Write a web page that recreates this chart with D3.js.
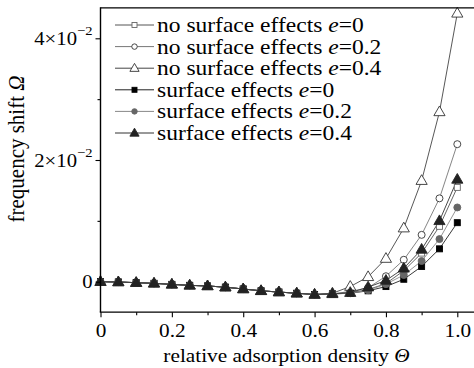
<!DOCTYPE html>
<html>
<head>
<meta charset="utf-8">
<script src="https://cdn.jsdelivr.net/npm/d3@7"></script>
<style>
  body { margin: 0; background: #fff; }
  svg { display: block; font-family: "Liberation Serif", "Times New Roman", serif; }
</style>
</head>
<body>
<div class="container"></div>
<script>
// relative adsorption density, 0 .. 1 step 0.05
let theta = [0, 0.05, 0.1, 0.15, 0.2, 0.25, 0.3, 0.35, 0.4, 0.45, 0.5, 0.55, 0.6, 0.65, 0.7, 0.75, 0.8, 0.85, 0.9, 0.95, 1.0]

// frequency shift values
let noSurfE0  = [0, -0.00005, -0.00016, -0.00027, -0.00044, -0.0006, -0.0007, -0.0009, -0.0012, -0.0015, -0.0017, -0.0019, -0.0021, -0.0020, -0.0018, -0.0013, -0.0003, 0.0018, 0.0047, 0.0091, 0.0155]
let noSurfE02 = [0, -0.00005, -0.00016, -0.00027, -0.00044, -0.0006, -0.0007, -0.0009, -0.0012, -0.0015, -0.0017, -0.0019, -0.0021, -0.0020, -0.0016, -0.0010, 0.0009, 0.0036, 0.0077, 0.0137, 0.0226]
let noSurfE04 = [0, -0.00005, -0.00016, -0.00027, -0.00044, -0.0006, -0.0007, -0.0009, -0.0012, -0.0015, -0.0017, -0.0019, -0.0021, -0.0019, -0.0008, 0.0008, 0.0038, 0.0088, 0.0166, 0.0279, 0.0441]
let surfE0    = [0, -0.00005, -0.00016, -0.00027, -0.00044, -0.0006, -0.0007, -0.0009, -0.0012, -0.0015, -0.0017, -0.0019, -0.0021, -0.0020, -0.0019, -0.0015, -0.0008, 0.0004, 0.0025, 0.0054, 0.0097]
let surfE02   = [0, -0.00005, -0.00016, -0.00027, -0.00044, -0.0006, -0.0007, -0.0009, -0.0012, -0.0015, -0.0017, -0.0019, -0.0021, -0.0020, -0.0019, -0.0014, -0.0004, 0.0011, 0.0034, 0.0070, 0.0122]
let surfE04   = [0, -0.00005, -0.00016, -0.00027, -0.00044, -0.0006, -0.0007, -0.0009, -0.0012, -0.0015, -0.0017, -0.0019, -0.0021, -0.0020, -0.0018, -0.0009, 0.0002, 0.0022, 0.0053, 0.0100, 0.0168]

let legendNames = ['no surface effects ', 'no surface effects ', 'no surface effects ', 'surface effects ', 'surface effects ', 'surface effects ']
let legendE = ['0', '0.2', '0.4', '0', '0.2', '0.4']

let xMajor = [0, 0.2, 0.4, 0.6, 0.8, 1.0]
let xMinor = [0.1, 0.3, 0.5, 0.7, 0.9]
let yMajor = [0, 0.02, 0.04]
let yMinor = [0.01, 0.03]
let yLabels = ['0', '2', '4']

let width = 474
let height = 368
let stretch = 1.12   // the original glyphs are a bit wider than Times

let series = [
    { values: noSurfE0,  shape: 'square',   line: '#555', stroke: '#666', fill: '#fff' },
    { values: noSurfE02, shape: 'circle',   line: '#777', stroke: '#333', fill: '#fff' },
    { values: noSurfE04, shape: 'triangle', line: '#444', stroke: '#333', fill: '#fff' },
    { values: surfE0,    shape: 'square',   line: '#222', stroke: '#000', fill: '#000' },
    { values: surfE02,   shape: 'circle',   line: '#888', stroke: '#666', fill: '#666' },
    { values: surfE04,   shape: 'triangle', line: '#333', stroke: '#222', fill: '#222' }
]

let xScale = d3.scaleLinear()
    .domain([0, 1])
    .range([100.5, 457.3])

let yScale = d3.scaleLinear()
    .domain([0, 0.04])
    .range([281.7, 38.3])

let svg = d3.select('.container')
    .append('svg')
    .attr('width', width)
    .attr('height', height)

let plotTop = yScale(0.045)
let plotBottom = yScale(-0.005)
let plotLeft = xScale(0)

// markers
function drawMarker(g, shape, cx, cy, size, stroke, fill) {
    if (shape === 'square') {
        g.append('rect')
            .attr('x', cx - size / 2).attr('y', cy - size / 2)
            .attr('width', size).attr('height', size)
            .attr('fill', fill).attr('stroke', stroke).attr('stroke-width', 0.9)
    } else if (shape === 'circle') {
        g.append('circle')
            .attr('cx', cx).attr('cy', cy).attr('r', size / 2)
            .attr('fill', fill).attr('stroke', stroke).attr('stroke-width', 0.9)
    } else {
        let s = d3.symbol().type(d3.symbolTriangle).size(size * size * 0.75)
        g.append('path')
            .attr('d', s())
            .attr('transform', `translate(${cx},${cy + 0.5})`)
            .attr('fill', fill).attr('stroke', stroke).attr('stroke-width', 0.9)
    }
}

let line = d3.line()
    .x((d, i) => xScale(theta[i]))
    .y((d) => yScale(d))

let plot = svg.append('g')

series.forEach((s) => {
    plot.append('path')
        .datum(s.values)
        .attr('d', line)
        .attr('fill', 'none')
        .attr('stroke', s.line)
        .attr('stroke-width', 0.9)
})

series.forEach((s) => {
    let g = plot.append('g')
    let size = s.shape === 'triangle' ? 8.5 : (s.shape === 'circle' ? 7 : 6)
    s.values.forEach((v, i) => {
        drawMarker(g, s.shape, xScale(theta[i]), yScale(v), size, s.stroke, s.fill)
    })
})

// frame
svg.append('line')
    .attr('x1', plotLeft).attr('x2', width).attr('y1', plotTop).attr('y2', plotTop)
    .attr('stroke', '#000').attr('stroke-width', 1.4)

let xAxis = d3.axisBottom(xScale)
    .tickValues(xMajor)
    .tickSize(5)
    .tickPadding(6)
    .tickFormat((d) => d === 0 ? '0' : d3.format('.1f')(d))

let xAxisMinor = d3.axisBottom(xScale)
    .tickValues(xMinor)
    .tickSize(3)
    .tickFormat('')

let gx = svg.append('g')
    .attr('transform', `translate(0,${plotBottom})`)
    .call(xAxis)
gx.select('.domain').remove()
svg.append('g')
    .attr('transform', `translate(0,${plotBottom})`)
    .call(xAxisMinor)
    .select('.domain').remove()

svg.append('line')
    .attr('x1', plotLeft - 0.7).attr('x2', width).attr('y1', plotBottom).attr('y2', plotBottom)
    .attr('stroke', '#000').attr('stroke-width', 1.4)

let yAxis = d3.axisLeft(yScale)
    .tickValues(yMajor)
    .tickSize(5)
    .tickFormat('')

let yAxisMinor = d3.axisLeft(yScale)
    .tickValues(yMinor)
    .tickSize(3)
    .tickFormat('')

let gy = svg.append('g')
    .attr('transform', `translate(${plotLeft},0)`)
    .call(yAxis)
gy.select('.domain').remove()
svg.append('g')
    .attr('transform', `translate(${plotLeft},0)`)
    .call(yAxisMinor)
    .select('.domain').remove()

svg.append('line')
    .attr('x1', plotLeft).attr('x2', plotLeft).attr('y1', plotTop - 0.7).attr('y2', plotBottom)
    .attr('stroke', '#000').attr('stroke-width', 1.4)

svg.selectAll('.tick line').attr('stroke', '#000').attr('stroke-width', 1.1)

gx.selectAll('.tick text')
    .attr('font-family', '"Liberation Serif", serif')
    .attr('font-size', 19)
    .attr('fill', '#000')
    .attr('transform', `scale(${stretch},1)`)

// y tick labels with superscripts
yMajor.forEach((v, i) => {
    let t = svg.append('text')
        .attr('transform', `translate(${plotLeft - 8},${yScale(v)}) scale(${stretch},1)`)
        .attr('dy', '0.36em')
        .attr('text-anchor', 'end')
        .attr('font-size', 18.5)
        .attr('fill', '#000')
    if (v === 0) {
        t.text('0')
    } else {
        t.append('tspan').text(yLabels[i] + '×10')
        t.append('tspan').attr('font-size', 13).attr('dy', '-0.75em').text('−2')
    }
})

// axis titles
let xt = svg.append('text')
    .attr('transform', `translate(286.5,362) scale(${stretch},1)`)
    .attr('text-anchor', 'middle')
    .attr('font-size', 19)
    .attr('fill', '#000')
xt.append('tspan').text('relative adsorption density ')
xt.append('tspan').attr('font-style', 'italic').text('Θ')

let yt = svg.append('text')
    .attr('transform', `translate(24,149) rotate(-90) scale(1,${stretch})`)
    .attr('text-anchor', 'middle')
    .attr('font-size', 21)
    .attr('fill', '#000')
yt.append('tspan').text('frequency shift ')
yt.append('tspan').attr('font-style', 'italic').text('Ω')

// legend
let legend = svg.append('g')
series.forEach((s, i) => {
    let y = 25 + i * 21.6
    legend.append('line')
        .attr('x1', 115).attr('x2', 154).attr('y1', y).attr('y2', y)
        .attr('stroke', s.line).attr('stroke-width', 1)
    let size = s.shape === 'triangle' ? 7 : (s.shape === 'circle' ? 5.5 : 5)
    drawMarker(legend, s.shape, 134.5, y, size, s.stroke, s.fill)
    let t = legend.append('text')
        .attr('transform', `translate(157,${y}) scale(${stretch},1)`)
        .attr('dy', '0.33em')
        .attr('font-size', 21)
        .attr('fill', '#000')
    t.append('tspan').text(legendNames[i])
    t.append('tspan').attr('font-style', 'italic').text('e')
    t.append('tspan').text('=' + legendE[i])
})
</script>
</body>
</html>
